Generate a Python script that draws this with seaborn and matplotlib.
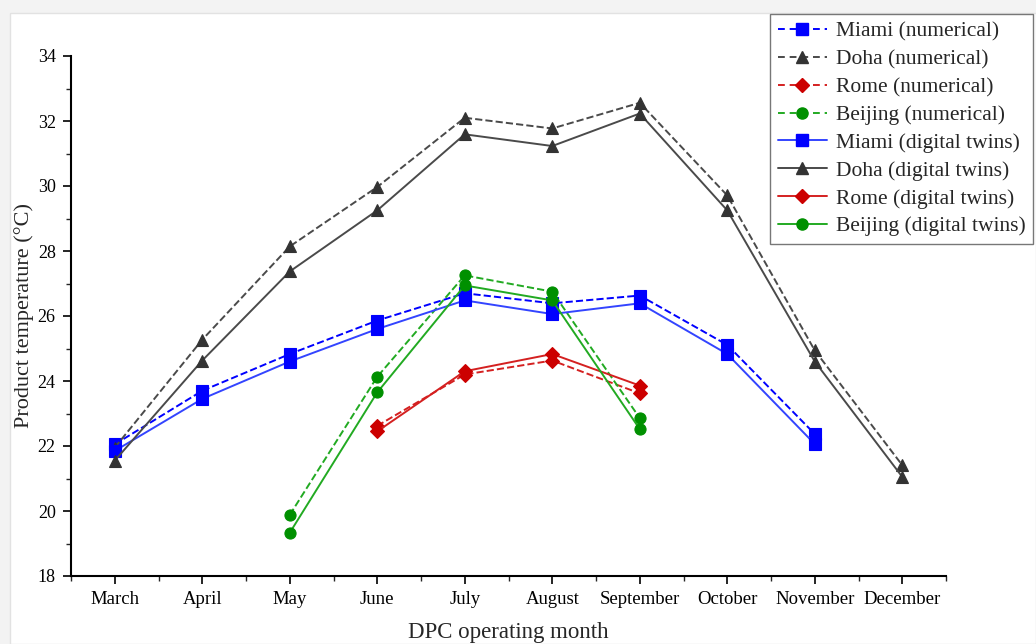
import numpy as np
import pandas as pd
import matplotlib
matplotlib.use("Agg")
import matplotlib.pyplot as plt
import matplotlib.patches as mpatches
import seaborn as sns

months = ["March", "April", "May", "June", "July", "August",
          "September", "October", "November", "December"]

miami_num = [22.05, 23.70, 24.83, 25.86, 26.70, 26.39, 26.63, 25.11, 22.37, None]
miami_dt = [21.85, 23.45, 24.60, 25.60, 26.48, 26.06, 26.39, 24.83, 22.06, None]
doha_num = [21.95, 25.27, 28.14, 29.97, 32.10, 31.77, 32.56, 29.71, 24.94, 21.41]
doha_dt = [21.55, 24.63, 27.37, 29.25, 31.59, 31.23, 32.23, 29.25, 24.60, 21.05]
rome_num = [None, None, None, 22.62, 24.20, 24.63, 23.62, None, None, None]
rome_dt = [None, None, None, 22.45, 24.30, 24.83, 23.86, None, None, None]
beijing_num = [None, None, 19.88, 24.13, 27.25, 26.75, 22.86, None, None, None]
beijing_dt = [None, None, 19.33, 23.65, 26.94, 26.48, 22.52, None, None, None]

series = [
    ("Miami (numerical)", miami_num, "#0000ff", "#0000ff", "s", "--"),
    ("Doha (numerical)", doha_num, "#4a4a4a", "#333333", "^", "--"),
    ("Rome (numerical)", rome_num, "#d42020", "#cc0000", "D", "--"),
    ("Beijing (numerical)", beijing_num, "#22aa22", "#009000", "o", "--"),
    ("Miami (digital twins)", miami_dt, "#3344ff", "#0000ff", "s", "-"),
    ("Doha (digital twins)", doha_dt, "#4a4a4a", "#333333", "^", "-"),
    ("Rome (digital twins)", rome_dt, "#d42020", "#cc0000", "D", "-"),
    ("Beijing (digital twins)", beijing_dt, "#22aa22", "#009000", "o", "-"),
]

sns.set_theme(style="ticks")
plt.rcParams["font.family"] = ["Liberation Serif", "DejaVu Serif"]

fig = plt.figure(figsize=(10.36, 6.44), dpi=100, facecolor="#f3f3f3")
bg = mpatches.Rectangle((10 / 1036, 0), 1 - 10 / 1036, 1 - 13 / 644,
                        transform=fig.transFigure, facecolor="white",
                        edgecolor="#e2e2e2", linewidth=1, zorder=-10)
fig.add_artist(bg)
ax = fig.add_axes([71 / 1036, 1 - 576 / 644, (946 - 71) / 1036, (576 - 56) / 644])
ax.set_zorder(1)
ax.patch.set_alpha(0)

DASH = (4.5, 2.5)
handles = []
for label, vals, lc, mc, mk, ls in series:
    df = pd.DataFrame({"pos": np.arange(len(months)), "value": vals}).dropna()
    ms = 8 if mk != "D" else 7.5
    sns.lineplot(data=df, x="pos", y="value", ax=ax, color=lc, linestyle=ls,
                 linewidth=1.4, marker=mk, markersize=ms,
                 markerfacecolor=mc, markeredgecolor=mc, markeredgewidth=0.8,
                 sort=False, legend=False,
                 dashes=DASH if ls == "--" else "")
    h = plt.Line2D([], [], color=lc, linestyle=ls, linewidth=1.4, marker=mk,
                   markersize=ms, markerfacecolor=mc, markeredgecolor=mc)
    if ls == "--":
        h.set_dashes((3.5, 2.5))
    handles.append((h, label))

ax.set_xlim(-0.5, 9.5)
ax.set_ylim(18, 34)
ax.set_xticks(np.arange(len(months)))
ax.set_xticklabels(months)
ax.set_xticks(np.arange(-0.5, 9.6, 1.0), minor=True)
ax.set_yticks(np.arange(18, 34.1, 2))
ax.set_yticks(np.arange(19, 34, 2), minor=True)
ax.tick_params(axis="both", which="major", direction="out", length=6, width=1.2,
               labelsize=13, colors="black", pad=5)
ax.tick_params(axis="both", which="minor", direction="out", length=3.5, width=1.0)
ax.tick_params(axis="x", which="major", labelsize=13.5)
for s in ["top", "right"]:
    ax.spines[s].set_visible(False)
for s in ["left", "bottom"]:
    ax.spines[s].set_linewidth(1.5)
    ax.spines[s].set_color("black")

ax.set_xlabel("DPC operating month", fontsize=16.5, labelpad=10)
ax.set_ylabel("Product temperature (°C)", fontsize=16, labelpad=3)

leg = fig.legend([h for h, _ in handles], [l for _, l in handles],
                 loc="upper right", bbox_to_anchor=(1033 / 1036, 1 - 14 / 644),
                 fontsize=15.5, frameon=True, fancybox=False, framealpha=1,
                 edgecolor="#777777", handlelength=2.3, handletextpad=0.4,
                 labelspacing=0.36, borderpad=0.35, borderaxespad=0)
leg.get_frame().set_linewidth(1.0)
leg.set_zorder(5)

fig.savefig("out.png", dpi=100, facecolor=fig.get_facecolor())
